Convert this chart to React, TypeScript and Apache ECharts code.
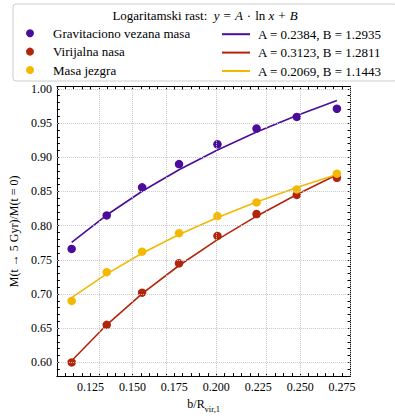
import React, { useEffect, useRef } from "react";
import * as echarts from "echarts";

const xVals = [0.1138, 0.1347, 0.1558, 0.1778, 0.2007, 0.224, 0.248, 0.2719];
const gravVals = [0.766, 0.815, 0.856, 0.89, 0.919, 0.942, 0.959, 0.971];
const virVals = [0.6, 0.655, 0.702, 0.745, 0.785, 0.817, 0.845, 0.87];
const coreVals = [0.69, 0.732, 0.762, 0.789, 0.814, 0.834, 0.853, 0.876];
const seriesNames = ["Gravitaciono vezana masa", "Virijalna nasa", "Masa jezgra"];
const fitA = [0.2384, 0.3123, 0.2069];
const fitB = [1.2935, 1.2811, 1.1443];
const colors = ["#4b0c9b", "#b3250b", "#f4b800"];
const xMajorTicks = [0.125, 0.15, 0.175, 0.2, 0.225, 0.25, 0.275];
const yMajorTicks = [0.6, 0.65, 0.7, 0.75, 0.8, 0.85, 0.9, 0.95, 1.0];

const FONT = "Liberation Serif";
const TXT = { fontFamily: FONT, fontStyle: "normal", fontWeight: "normal", color: "#000" };

const isMajor = (v: number, step: number) =>
  Math.abs(v / step - Math.round(v / step)) < 1e-6;

export default function App() {
  const ref = useRef<HTMLDivElement>(null);

  useEffect(() => {
    if (!ref.current) return;
    const chart = echarts.init(ref.current, undefined, { renderer: "svg" });

    const dataSets = [gravVals, virVals, coreVals];
    const fitNames = fitA.map(
      (a, i) => `A = ${a.toFixed(4)}, B = ${fitB[i].toFixed(4)}`
    );

    const axisLineStyle = { show: true, onZero: false, lineStyle: { color: "#000", width: 1 } };
    const tickStyle = { show: true, inside: true, length: 3, lineStyle: { color: "#000", width: 1 } };

    const xBase = { type: "value", min: 0.105, max: 0.28, interval: 0.005, axisLine: axisLineStyle, axisTick: tickStyle, splitLine: { show: false } };
    const yBase = { type: "value", min: 0.58, max: 1.0035, interval: 0.01, axisLine: axisLineStyle, axisTick: tickStyle, splitLine: { show: false } };

    const scatterSeries = seriesNames.map((name, i) => ({
      name,
      type: "scatter",
      data: xVals.map((x, j) => [x, dataSets[i][j]]),
      symbol: "circle",
      symbolSize: 8.5,
      itemStyle: { color: colors[i], opacity: 1 },
      z: 4,
    }));

    const fitSeries = fitNames.map((name, i) => ({
      name,
      type: "line",
      data: xVals.map((x) => [x, fitA[i] * Math.log(x) + fitB[i]]),
      symbol: "none",
      showSymbol: false,
      lineStyle: { color: colors[i], width: 1.6 },
      itemStyle: { color: colors[i] },
      z: 3,
    }));

    const gridSeries = {
      type: "line",
      data: [],
      silent: true,
      z: 1,
      markLine: {
        silent: true,
        symbol: ["none", "none"],
        label: { show: false },
        lineStyle: { color: "#c8c8c8", type: "dotted", width: 1 },
        data: [
          ...yMajorTicks.map((v) => ({ yAxis: v })),
          ...xMajorTicks.map((v) => ({ xAxis: v })),
        ],
      },
    };

    const legendText = { ...TXT, fontSize: 13, lineHeight: 18.4 };
    const rn = { fontFamily: FONT, fontStyle: "normal", fontWeight: "normal", fontSize: 13, fill: "#000" };
    const ri = { ...rn, fontStyle: "italic" };
    const ro = { ...rn, padding: [0, 2, 0, 2] };

    chart.setOption({
      animation: false,
      grid: { left: 50, top: 86.5, width: 300.5, height: 298.5, show: false },
      xAxis: [
        {
          ...xBase,
          position: "bottom",
          axisLabel: {
            ...TXT,
            formatter: (v: number) => (isMajor(v, 0.025) ? v.toFixed(3) : ""),
            margin: 5,
            fontSize: 12,
          },
          name: "{n|b/R}{s|vir,1}",
          nameLocation: "middle",
          nameGap: 14,
          nameTextStyle: {
            ...TXT,
            rich: {
              n: { ...TXT, fontSize: 12, lineHeight: 16, verticalAlign: "bottom" },
              s: { ...TXT, fontSize: 8.5, lineHeight: 16, verticalAlign: "bottom", padding: [0, 0, -3, 0] },
            },
          },
        },
        { ...xBase, position: "top", axisLabel: { show: false } },
      ],
      yAxis: [
        {
          ...yBase,
          position: "left",
          axisLabel: {
            ...TXT,
            formatter: (v: number) => (isMajor(v, 0.05) && v < 1.001 ? v.toFixed(2) : ""),
            margin: 5,
            fontSize: 12,
          },
          name: "M(t → 5 Gyr)/M(t = 0)",
          nameLocation: "middle",
          nameGap: 31,
          nameTextStyle: { ...TXT, fontSize: 12 },
        },
        { ...yBase, position: "right", axisLabel: { show: false } },
      ],
      legend: [
        {
          data: seriesNames.map((n) => ({ name: n, icon: "circle" })),
          orient: "vertical",
          left: 26,
          top: 24,
          padding: 0,
          itemGap: 0,
          itemWidth: 36,
          itemHeight: 8,
          selectedMode: false,
          textStyle: legendText,
          z: 5,
        },
        {
          data: fitNames.map((n) => ({ name: n, icon: "path://M0,0L28,0L28,2L0,2Z" })),
          orient: "vertical",
          left: 222,
          top: 25,
          padding: 0,
          itemGap: 0,
          itemWidth: 28,
          itemHeight: 2,
          selectedMode: false,
          textStyle: { ...legendText, padding: [0, 0, 0, 3] },
          z: 5,
        },
      ],
      graphic: [
        {
          type: "rect",
          z: 0,
          shape: { x: 13, y: 4, width: 384, height: 77, r: 3 },
          style: { fill: "rgba(255,255,255,0.8)", stroke: "#cccccc", lineWidth: 1 },
        },
        {
          type: "text",
          z: 5,
          x: 205,
          y: 15,
          style: {
            text: "{n|Logaritamski rast:  }{i|y}{o|=}{i|A}{o|·}{n|ln }{i|x}{o|+}{i|B}",
            align: "center",
            verticalAlign: "middle",
            rich: { n: rn, i: ri, o: { ...ro, padding: [0, 4, 0, 4] } },
          },
        },
      ],
      series: [gridSeries, ...fitSeries, ...scatterSeries],
    });

    return () => chart.dispose();
  }, []);

  return (
    <div
      ref={ref}
      style={{ position: "fixed", left: 0, top: 0, width: 395, height: 418, background: "#fff" }}
    />
  );
}
